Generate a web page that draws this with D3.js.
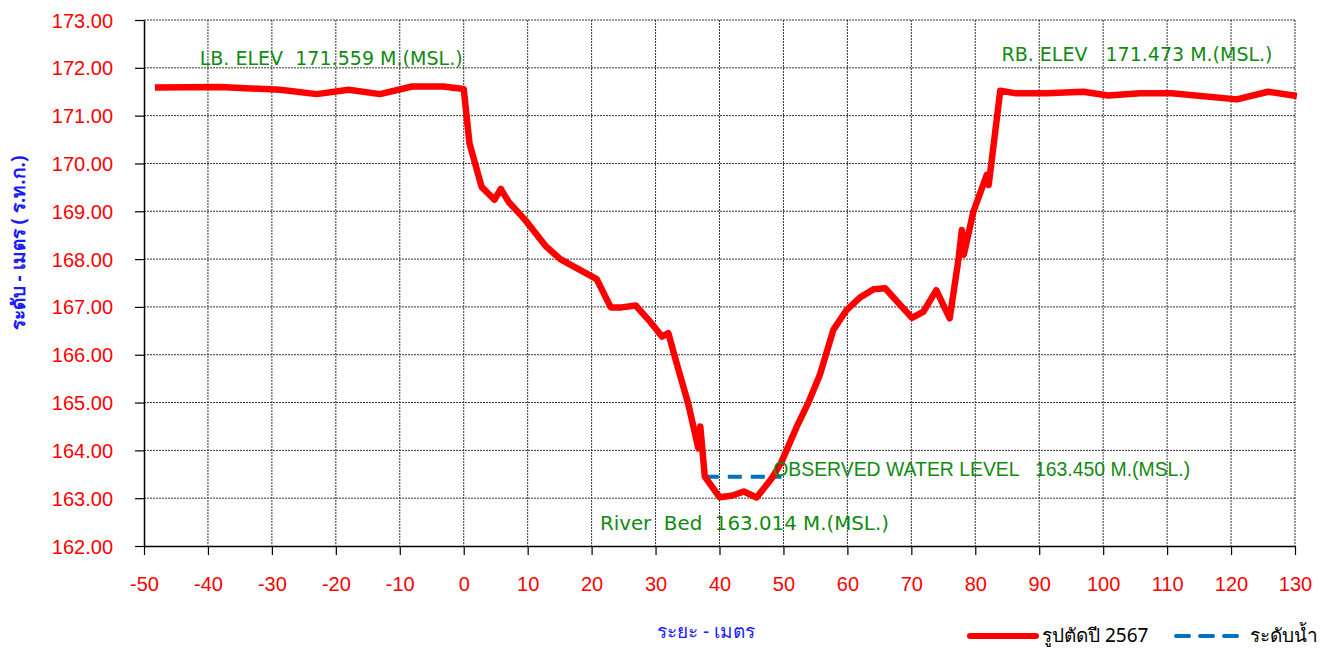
<!DOCTYPE html>
<html><head><meta charset="utf-8">
<script src="https://cdn.jsdelivr.net/npm/d3@7"></script>
<style>body{margin:0;background:#fff;} svg{display:block;} text{white-space:pre;}</style>
</head><body>
<svg id="c" width="1329" height="653"></svg>
<script>
// Data
const distances = [-48.3,-38.1,-28.7,-23.0,-18.0,-13.1,-8.1,-3.2,0.0,0.9,2.8,4.8,5.8,7.0,9.6,12.9,15.1,20.8,23.0,24.7,26.9,28.9,31.0,32.0,33.3,35.1,36.7,37.0,37.7,40.0,41.9,43.8,45.8,48.2,49.7,52.1,53.9,55.7,57.8,59.9,62.0,64.1,65.9,70.1,71.9,73.9,76.0,77.4,77.9,78.2,79.7,81.8,82.1,83.9,86.2,91.2,96.9,100.8,105.8,110.7,120.9,125.8,130.3];
const elevations = [171.59,171.60,171.54,171.45,171.54,171.45,171.61,171.61,171.559,170.42,169.51,169.24,169.47,169.20,168.82,168.26,168.00,167.58,166.99,166.99,167.03,166.73,166.38,166.45,165.82,164.98,164.04,164.50,163.45,163.02,163.05,163.14,163.014,163.42,163.76,164.50,165.00,165.58,166.52,166.94,167.20,167.37,167.39,166.77,166.90,167.35,166.76,168.02,168.61,168.09,168.99,169.76,169.55,171.52,171.47,171.47,171.50,171.42,171.47,171.47,171.34,171.50,171.41];
const waterDist = [37.7, 49.7];
const waterLevel = [163.45, 163.45];
const xTicks = [-50,-40,-30,-20,-10,0,10,20,30,40,50,60,70,80,90,100,110,120,130];
const yTicks = [162,163,164,165,166,167,168,169,170,171,172,173];
const seriesNames = ["รูปตัดปี 2567", "ระดับน้ำ"];
const annotations = [
  {text:"LB. ELEV  171.559 M.(MSL.)", x:-41.3, y:172.17, font:"'DejaVu Sans', sans-serif", len:263},
  {text:"RB. ELEV   171.473 M.(MSL.)", x:84.1, y:172.25, font:"'DejaVu Sans', sans-serif", len:271},
  {text:"OBSERVED WATER LEVEL   163.450 M.(MSL.)", x:48.4, y:163.57, font:"'Liberation Sans', Arial, sans-serif", len:417},
  {text:"River  Bed  163.014 M.(MSL.)", x:21.3, y:162.44, font:"'DejaVu Sans', sans-serif", len:289}
];

const svg = d3.select("#c");
const L=144, R=1295, T=20, B=546;
const x = d3.scaleLinear().domain([-50,130]).range([L,R]);
const y = d3.scaleLinear().domain([162,173]).range([B,T]);

// grid
const grid = svg.append("g");
grid.selectAll(".vx").data(xTicks.filter(d=>d>-50)).enter().append("line")
  .attr("x1",d=>x(d)).attr("x2",d=>x(d)).attr("y1",T).attr("y2",B)
  .attr("stroke","#333").attr("stroke-width",1).attr("stroke-dasharray","2,1");
grid.selectAll(".hy").data(yTicks.filter(d=>d>162)).enter().append("line")
  .attr("x1",L).attr("x2",R).attr("y1",d=>y(d)).attr("y2",d=>y(d))
  .attr("stroke","#333").attr("stroke-width",1).attr("stroke-dasharray","2,1");

// axes
const xAxis = d3.axisBottom(x).tickValues(xTicks).tickSize(9).tickSizeOuter(0).tickFormat(d=>String(d));
const gx = svg.append("g").attr("transform",`translate(0,${B})`).call(xAxis);
gx.select(".domain").attr("stroke","#000").attr("stroke-width",1.5);
gx.selectAll(".tick line").attr("stroke","#000").attr("stroke-width",1.2);
gx.selectAll("text").attr("fill","#ff0000").attr("font-family","'Liberation Sans', Arial, sans-serif")
  .attr("font-size","20px").attr("dy","0").attr("y",45);

const yAxis = d3.axisLeft(y).tickValues(yTicks).tickSize(9).tickSizeOuter(0).tickFormat(d=>d.toFixed(2));
const gy = svg.append("g").attr("transform",`translate(${L},0)`).call(yAxis);
gy.select(".domain").attr("stroke","#000").attr("stroke-width",1.5);
gy.selectAll(".tick line").attr("stroke","#000").attr("stroke-width",1.2);
gy.selectAll("text").attr("fill","#ff0000").attr("font-family","'Liberation Sans', Arial, sans-serif")
  .attr("font-size","20px").attr("x",-31).attr("dy","0.35em");

// water
const line = d3.line().x(d=>x(d[0])).y(d=>y(d[1]));
svg.append("path").datum(waterDist.map((d,i)=>[d,waterLevel[i]]))
  .attr("d",line).attr("fill","none").attr("stroke","#0070c0").attr("stroke-width",4)
  .attr("stroke-dasharray","14,9");

// profile
svg.append("path").datum(distances.map((d,i)=>[d,elevations[i]]))
  .attr("d",line).attr("fill","none").attr("stroke","#ff0000").attr("stroke-width",6.5)
  .attr("stroke-linejoin","round").attr("stroke-linecap","butt");

// annotations
svg.selectAll(".ann").data(annotations).enter().append("text")
  .attr("x",d=>x(d.x)).attr("y",d=>y(d.y)).attr("fill","#108a10")
  .attr("font-family",d=>d.font).attr("font-size","20px")
  .attr("textLength",d=>d.len).attr("lengthAdjust","spacingAndGlyphs")
  .attr("dominant-baseline","middle")
  .text(d=>d.text);

// axis titles
svg.append("text").attr("x",706).attr("y",633).attr("text-anchor","middle")
  .attr("fill","#1a1aff").attr("font-family","'Noto Sans', sans-serif").attr("font-size","19px")
  .attr("dominant-baseline","middle").text("ระยะ - เมตร");
svg.append("text").attr("transform","translate(20,243) rotate(-90)").attr("text-anchor","middle")
  .attr("fill","#1a1aff").attr("font-family","'Noto Sans', sans-serif").attr("font-size","19px").attr("font-weight","bold")
  .attr("dominant-baseline","middle").text("ระดับ - เมตร ( ร.ท.ก.)");

// legend
const lg = svg.append("g");
lg.append("line").attr("x1",970).attr("x2",1036).attr("y1",636).attr("y2",636)
  .attr("stroke","#ff0000").attr("stroke-width",6).attr("stroke-linecap","round");
lg.append("text").attr("x",1042).attr("y",637).attr("dominant-baseline","middle")
  .attr("font-family","'Noto Sans', sans-serif").attr("font-size","19px").attr("fill","#000").text(seriesNames[0]);
lg.append("line").attr("x1",1176).attr("x2",1246).attr("y1",636).attr("y2",636)
  .attr("stroke","#0070c0").attr("stroke-width",4).attr("stroke-dasharray","13,11").attr("stroke-linecap","round");
lg.append("text").attr("x",1250).attr("y",637).attr("dominant-baseline","middle")
  .attr("font-family","'Noto Sans', sans-serif").attr("font-size","19px").attr("fill","#000").text(seriesNames[1]);
</script>
</body></html>
